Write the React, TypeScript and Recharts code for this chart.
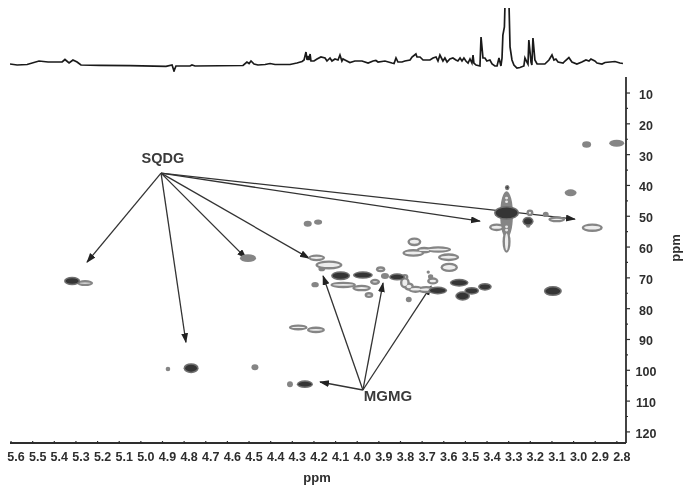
import React from "react";
import {
  LineChart,
  Line,
  ScatterChart,
  Scatter,
  XAxis,
  YAxis,
  ReferenceLine,
  ReferenceDot,
} from "recharts";

// 1D proton trace on top of the HSQC map
const tracePpm = [
  5.614, 5.581, 5.535, 5.48, 5.438, 5.373, 5.36, 5.341, 5.323, 5.304, 5.286, 5.198, 5.059, 4.893, 4.865, 4.856, 4.847,
  4.782, 4.773, 4.759, 4.537, 4.519, 4.509, 4.5, 4.486, 4.468, 4.435, 4.412, 4.389, 4.32, 4.288, 4.264, 4.255, 4.246,
  4.241, 4.237, 4.232, 4.227, 4.223, 4.209, 4.195, 4.177, 4.158, 4.149, 4.135, 4.126, 4.112, 4.098, 4.089, 4.08, 4.075,
  4.066, 4.043, 4.02, 3.987, 3.959, 3.936, 3.923, 3.913, 3.881, 3.849, 3.839, 3.83, 3.821, 3.802, 3.789, 3.765, 3.756,
  3.738, 3.733, 3.719, 3.705, 3.673, 3.659, 3.645, 3.636, 3.627, 3.613, 3.604, 3.594, 3.581, 3.567, 3.553, 3.544, 3.534,
  3.525, 3.516, 3.507, 3.497, 3.488, 3.479, 3.474, 3.47, 3.46, 3.442, 3.437, 3.428, 3.419, 3.41, 3.396, 3.386, 3.373,
  3.363, 3.354, 3.345, 3.34, 3.336, 3.329, 3.326, 3.308, 3.303, 3.294, 3.285, 3.271, 3.257, 3.239, 3.234, 3.225, 3.22,
  3.216, 3.206, 3.202, 3.197, 3.188, 3.178, 3.165, 3.142, 3.123, 3.109, 3.1, 3.091, 3.081, 3.058, 3.049, 3.031, 3.017,
  2.994, 2.971, 2.952, 2.938, 2.929, 2.92, 2.911, 2.901, 2.878, 2.864, 2.818, 2.795, 2.781,
];
const traceHeight = [
  8, 7, 7.5, 11, 10, 10, 12.5, 9, 12, 10, 7, 6.7, 6.3, 5.7, 7, 1, 6,
  6, 7, 6, 6.5, 10, 8.5, 11, 8, 7, 7.5, 8.5, 7.5, 7.5, 9, 10.5, 12, 20,
  12, 16, 12, 18, 11, 11, 13, 15, 14, 11, 14, 11, 13, 12, 17, 11, 13,
  12, 9.5, 11, 11, 9, 11, 11.5, 10, 11, 9, 8.5, 14, 10, 10, 11, 12, 15,
  18, 15, 15, 12, 12, 14, 15, 11, 17, 11, 14, 10, 13, 14, 12, 11, 14,
  11, 14, 11, 9, 13, 9, 17, 9, 7, 6, 35, 14, 14, 11, 12, 8, 6,
  6, 14, 6, 14, 37, 45, 70, 70, 25, 12, 7, 4, 4.5, 6, 14, 10, 8,
  32, 10, 7, 34, 12, 8, 8, 8, 12, 17, 12, 13, 10, 9, 11, 14.5, 10,
  8, 10, 12, 11, 13, 12, 11, 9, 8, 9.5, 10.5, 9, 8.5,
];

// cross peaks: [1H ppm, 13C ppm, width in 1H ppm, height in 13C ppm]
const ringPeaks = [
  [4.197, 63.5, 0.069, 1.6], [4.14, 65.8, 0.115, 2.3], [4.173, 67.1, 0.022, 0.9],
  [4.074, 72.3, 0.108, 1.5], [3.989, 73.3, 0.077, 1.5], [3.955, 75.6, 0.031, 1.3],
  [3.901, 67.2, 0.034, 1.3], [3.927, 71.3, 0.037, 1.3], [3.789, 69.7, 0.023, 1.3],
  [3.789, 71.6, 0.036, 3.0], [3.77, 72.8, 0.036, 2.0], [3.74, 73.7, 0.06, 1.7], [3.69, 73.8, 0.075, 1.7],
  [3.66, 71.0, 0.043, 1.7], [3.745, 58.3, 0.055, 2.2], [3.75, 61.9, 0.092, 1.9],
  [3.7, 61.0, 0.06, 1.5], [3.635, 60.8, 0.11, 1.5], [3.587, 63.3, 0.089, 1.9],
  [3.584, 66.6, 0.071, 2.4], [4.282, 86.1, 0.077, 1.3], [4.2, 86.9, 0.074, 1.5],
  [5.267, 71.7, 0.065, 1.3], [2.923, 53.7, 0.088, 2.1], [3.087, 51.0, 0.069, 1.3],
  [3.211, 48.9, 0.023, 1.6], [3.365, 53.6, 0.06, 1.9], [3.319, 58.3, 0.028, 6.5],
];
const greyPeaks = [
  [4.238, 52.4, 0.028, 1.3], [4.19, 51.9, 0.028, 1.1], [4.204, 72.2, 0.025, 1.1],
  [3.881, 69.4, 0.028, 1.3], [3.771, 77.0, 0.018, 1.1], [3.67, 69.6, 0.015, 0.9],
  [3.681, 68.1, 0.006, 0.4], [4.514, 63.6, 0.065, 1.9], [4.884, 99.6, 0.012, 0.8],
  [4.482, 99.0, 0.023, 1.3], [4.32, 104.5, 0.018, 1.3], [2.949, 26.7, 0.032, 1.5],
  [2.81, 26.3, 0.06, 1.6], [3.023, 42.4, 0.046, 1.6], [3.138, 49.4, 0.018, 1.1],
  [3.219, 52.9, 0.012, 1.0], [3.319, 49.5, 0.05, 14.6],
];
const darkPeaks = [
  [4.086, 69.3, 0.079, 2.3], [3.983, 69.1, 0.083, 1.8], [3.825, 69.7, 0.065, 1.7],
  [3.637, 74.1, 0.077, 1.9], [3.538, 71.6, 0.077, 1.9], [3.522, 75.9, 0.059, 2.4],
  [3.48, 74.2, 0.059, 1.9], [3.419, 72.9, 0.054, 1.9], [5.327, 71.0, 0.065, 2.1],
  [4.777, 99.3, 0.06, 2.6], [4.251, 104.5, 0.065, 1.9], [3.105, 74.3, 0.074, 2.6],
  [3.22, 51.6, 0.042, 2.3], [3.316, 40.7, 0.012, 1.0], [3.319, 48.9, 0.106, 3.8],
];
// pale holes inside the tall solvent contour
const columnGaps = [
  [3.319, 44.1, 0.01, 0.6], [3.319, 45.3, 0.01, 0.6], [3.319, 53.4, 0.01, 0.6], [3.319, 54.5, 0.01, 0.6],
];

const xTicks = [
  5.6, 5.5, 5.4, 5.3, 5.2, 5.1, 5.0, 4.9, 4.8, 4.7, 4.6, 4.5, 4.4, 4.3, 4.2, 4.1, 4.0, 3.9, 3.8, 3.7, 3.6, 3.5, 3.4,
  3.3, 3.2, 3.1, 3.0, 2.9, 2.8,
];
const yTicks = [10, 15, 20, 25, 30, 35, 40, 45, 50, 55, 60, 65, 70, 75, 80, 85, 90, 95, 100, 105, 110, 115, 120];

// arrows: label origin, then the tips
const sqdgFrom = { x: 4.916, y: 36 };
const sqdgTips = [
  [5.258, 64.9], [4.801, 90.9], [4.523, 63.6], [4.232, 63.6], [3.442, 51.6], [3.003, 50.9],
];
const mgmgFrom = { x: 3.983, y: 106.4 };
const mgmgTips = [
  [4.167, 69.4], [3.89, 71.7], [3.668, 72.7], [4.181, 103.8],
];

const toRows = (rows: number[][]) => rows.map(([h, c, w, d]) => ({ h, c, w, d }));
const traceData = tracePpm.map((ppm, i) => ({ ppm, height: traceHeight[i] }));

const W = 687;
const H = 490;
const PLOT_W = 616;
const PLOT_H = 366;
const H_DOMAIN: [number, number] = [2.767, 5.614];
const C_DOMAIN: [number, number] = [4.8, 123.6];
const PX_PER_H = PLOT_W / (H_DOMAIN[1] - H_DOMAIN[0]);
const PX_PER_C = PLOT_H / (C_DOMAIN[1] - C_DOMAIN[0]);
const FONT = "'Liberation Sans', Arial, sans-serif";
const INK = "#2e2e2e";

// blob drawn as an ellipse, grown or shrunk by "inset" px
const blob = (fill: string, inset: number) => (p: any) => {
  const rx = (p.payload.w * PX_PER_H) / 2 + 1 - inset;
  const ry = (p.payload.d * PX_PER_C) / 2 + 1 - inset;
  if (rx <= 0 || ry <= 0) return <g />;
  return <ellipse cx={p.cx} cy={p.cy} rx={rx} ry={ry} fill={fill} />;
};

const XTick = (p: any) => (
  <g>
    <line x1={p.x - 2} x2={p.x - 2} y1={p.y - 8} y2={p.y - 5} stroke={INK} strokeWidth={1.2} />
    <text x={p.x + 3} y={p.y + 12} textAnchor="middle" fontFamily={FONT} fontWeight="bold" fontSize={12.5} fill={INK}>
      {p.payload.value.toFixed(1)}
    </text>
  </g>
);

const YTick = (p: any) => {
  const major = p.payload.value % 10 === 0;
  return (
    <g>
      <line x1={p.x - 8} x2={p.x - 8 + (major ? 4 : 2)} y1={p.y} y2={p.y} stroke={INK} strokeWidth={1.2} />
      <text x={p.x + 12} y={p.y + 6} textAnchor="middle" fontFamily={FONT} fontWeight="bold" fontSize={12.5} fill={INK}>
        {major ? p.payload.value : ""}
      </text>
    </g>
  );
};

const arrow = (p: any) => (
  <line x1={p.x1} y1={p.y1} x2={p.x2} y2={p.y2} stroke="#333" strokeWidth={1.3} markerEnd="url(#tip)" />
);

export default function App() {
  return (
    <div style={{ position: "absolute", left: 0, top: 0, width: W, height: H, filter: "blur(0.55px)" }}>
      <div style={{ position: "absolute", left: 0, top: 0 }}>
        <LineChart width={W} height={80} data={traceData} margin={{ top: 8, right: 61, bottom: 8, left: 10 }}>
          <XAxis dataKey="ppm" type="number" domain={H_DOMAIN} reversed hide allowDataOverflow />
          <YAxis type="number" domain={[0, 64]} hide allowDataOverflow />
          <Line
            dataKey="height"
            type="linear"
            stroke="#1a1a1a"
            strokeWidth={1.7}
            dot={false}
            isAnimationActive={false}
          />
        </LineChart>
      </div>
      <div style={{ position: "absolute", left: 0, top: 0 }}>
        <ScatterChart width={W} height={H} margin={{ top: 77, right: 0, bottom: 0, left: 10 }}>
          <defs>
            <marker id="tip" markerWidth="10" markerHeight="8" refX="9" refY="3.5" orient="auto" markerUnits="userSpaceOnUse">
              <path d="M0,0 L10,3.5 L0,7 Z" fill="#222" />
            </marker>
          </defs>
          <XAxis
            dataKey="h"
            type="number"
            domain={H_DOMAIN}
            reversed
            ticks={xTicks}
            interval={0}
            height={47}
            stroke={INK}
            strokeWidth={1.8}
            tickLine={false}
            tick={<XTick />}
            tickMargin={0}
            label={{
              value: "ppm",
              position: "insideBottom",
              offset: 8,
              dx: -1,
              style: { fontFamily: FONT, fontWeight: "bold", fontSize: 13, fill: INK },
            }}
          />
          <YAxis
            dataKey="c"
            type="number"
            domain={C_DOMAIN}
            orientation="right"
            reversed
            ticks={yTicks}
            interval={0}
            width={61}
            stroke={INK}
            strokeWidth={1.8}
            tickLine={false}
            tick={<YTick />}
            label={{
              value: "ppm",
              angle: -90,
              position: "insideRight",
              offset: 12,
              dy: -12,
              style: { fontFamily: FONT, fontWeight: "bold", fontSize: 13, fill: INK, textAnchor: "middle" },
            }}
          />
          <Scatter data={toRows(ringPeaks)} shape={blob("#858585", 0)} isAnimationActive={false} />
          <Scatter data={toRows(greyPeaks)} shape={blob("#858585", 0)} isAnimationActive={false} />
          <Scatter data={toRows(ringPeaks)} shape={blob("#ededed", 2.4)} isAnimationActive={false} />
          <Scatter data={toRows(darkPeaks)} shape={blob("#707070", 0)} isAnimationActive={false} />
          <Scatter data={toRows(darkPeaks)} shape={blob("#353535", 1.5)} isAnimationActive={false} />
          <Scatter data={toRows(columnGaps)} shape={blob("#e8e8e8", 0.6)} isAnimationActive={false} />
          {sqdgTips.map(([x, y]) => (
            <ReferenceLine key={`s${x}`} segment={[sqdgFrom, { x, y }]} shape={arrow} />
          ))}
          {mgmgTips.map(([x, y]) => (
            <ReferenceLine key={`m${x}`} segment={[mgmgFrom, { x, y }]} shape={arrow} />
          ))}
          <ReferenceDot
            x={4.907}
            y={31.2}
            r={0}
            fill="none"
            stroke="none"
            label={{
              value: "SQDG",
              position: "center",
              style: { fontFamily: FONT, fontWeight: "bold", fontSize: 14.5, fill: "#3a3a3a" },
            }}
          />
          <ReferenceDot
            x={3.867}
            y={108.2}
            r={0}
            fill="none"
            stroke="none"
            label={{
              value: "MGMG",
              position: "center",
              style: { fontFamily: FONT, fontWeight: "bold", fontSize: 15, fill: "#3a3a3a" },
            }}
          />
        </ScatterChart>
      </div>
    </div>
  );
}
